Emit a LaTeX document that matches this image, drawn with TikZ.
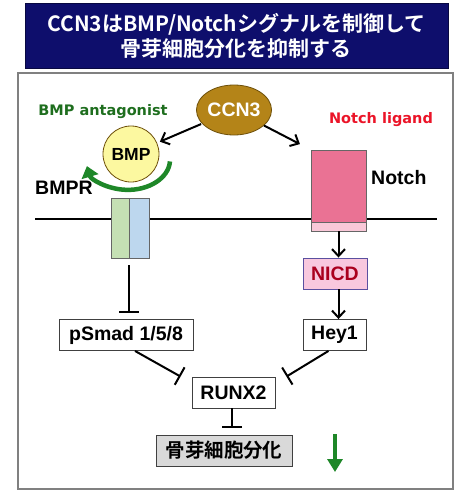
\documentclass[tikz,border=0pt]{standalone}
\usepackage{fontspec}
\setmainfont{Liberation Sans}
\newfontfamily\jpfont{Noto Sans CJK JP}[BoldFont={* Bold}]
\newfontfamily\comicfont{DejaVu Sans}
\usetikzlibrary{arrows.meta,shapes.geometric}
\definecolor{navy}{RGB}{14,14,108}
\definecolor{gold}{RGB}{180,132,24}
\definecolor{goldline}{RGB}{110,80,10}
\definecolor{bmpfill}{RGB}{252,248,160}
\definecolor{dgreen}{RGB}{30,110,30}
\definecolor{agreen}{RGB}{30,135,40}
\definecolor{nred}{RGB}{235,20,40}
\definecolor{notchpink}{RGB}{234,114,148}
\definecolor{notchlight}{RGB}{249,200,216}
\definecolor{nicdfill}{RGB}{248,200,222}
\definecolor{nicdline}{RGB}{90,80,160}
\definecolor{nicdtext}{RGB}{170,0,30}
\definecolor{rgreen}{RGB}{197,224,180}
\definecolor{rblue}{RGB}{189,215,238}
\definecolor{grayfill}{RGB}{217,217,217}
\tikzset{
  lab/.style={font=\fontsize{19.5}{22}\selectfont\bfseries, inner sep=0pt},
  gbox/.style={draw=black!75, line width=0.9pt, fill=white, minimum height=31pt, inner sep=0pt, font=\fontsize{19.5}{22}\selectfont\bfseries},
  arr/.style={line width=2pt, -{Straight Barb[length=7pt,width=13pt,line width=2pt]}},
  inh/.style={line width=2pt, -{Bar[width=20pt,line width=2pt]}},
}
\begin{document}
\begin{tikzpicture}[x=1pt,y=-1pt]
\useasboundingbox (0,0) rectangle (470,499);
% title
\node[fill=navy, draw=navy!60!black, minimum width=423pt, minimum height=65pt, inner sep=0pt,
      text=white, align=center, font=\jpfont\bfseries\fontsize{21}{25}\selectfont] (title) at (236.5,35.5)
      {CCN3はBMP/Notchシグナルを制御して\\骨芽細胞分化を抑制する};
% frame
\node[draw=gray, line width=2.2pt, fill=white, minimum width=435pt, minimum height=416pt, inner sep=0pt] (frame) at (235.5,281) {};
% membrane
\coordinate (m1) at (35,219);
\coordinate (m2) at (437,219);
\draw[line width=2pt] (m1) -- (m2);
% CCN3
\node[ellipse, draw=goldline, line width=0.8pt, fill=gold, minimum width=72pt, minimum height=50pt, inner sep=0pt,
      text=white, font=\fontsize{19.5}{22}\selectfont\bfseries] (ccn3) at (234,110) {CCN3};
% labels
\node[text=dgreen, font=\comicfont\bfseries\fontsize{14.5}{16}\selectfont, inner sep=0pt] (bmpant) at (103,112) {BMP antagonist};
\node[text=nred, font=\comicfont\bfseries\fontsize{14.5}{16}\selectfont, inner sep=0pt] (nlig) at (381,120) {Notch ligand};
% BMP
\node[circle, draw=goldline, line width=0.8pt, fill=bmpfill, minimum size=56pt, inner sep=0pt,
      font=\fontsize{17.5}{20}\selectfont\bfseries] (bmp) at (131,154) {BMP};
\node[lab, anchor=west] (bmpr) at (35,188) {BMPR};
% receptor
\node[draw=black!60, line width=0.8pt, fill=rgreen, minimum width=18pt, minimum height=60pt, inner sep=0pt] (rg) at (120,228) {};
\node[draw=black!60, line width=0.8pt, fill=rblue, minimum width=20pt, minimum height=60pt, inner sep=0pt] (rb) at (139,228) {};
% green arc
\coordinate (arcs) at ([shift={(3:42pt and 30pt)}]128,163);
\draw[agreen, line width=4.5pt, -{Triangle[length=11pt,width=17pt]}] (arcs) arc[start angle=3, end angle=168, x radius=42, y radius=30];
% Notch
\node[draw=black!60, line width=0.8pt, fill=notchpink, minimum width=55pt, minimum height=72pt, inner sep=0pt] (notch) at (338.5,186) {};
\node[draw=black!60, line width=0.8pt, fill=notchlight, minimum width=55pt, minimum height=9pt, inner sep=0pt] (strip) at (338.5,226.5) {};
\node[lab, anchor=west] (notchl) at (371,178) {Notch};
% boxes
\node[draw=nicdline, line width=0.9pt, fill=nicdfill, minimum width=64pt, minimum height=31pt, inner sep=0pt,
      text=nicdtext, font=\fontsize{19.5}{22}\selectfont\bfseries] (nicd) at (335,273.5) {NICD};
\node[gbox, minimum width=63pt] (hey1) at (334.5,335) {Hey1};
\node[gbox, minimum width=134pt] (psmad) at (126,335) {pSmad 1/5/8};
\node[gbox, minimum width=83pt] (runx2) at (233.5,392.5) {RUNX2};
\node[gbox, fill=grayfill, minimum width=136pt, font=\jpfont\bfseries\fontsize{19.5}{22}\selectfont] (diff) at (224,450.5) {骨芽細胞分化};
% connectors
\draw[arr, shorten >=3pt, shorten <=1pt] (ccn3) -- (bmp);
\draw[arr, shorten >=12pt] (ccn3) -- (notch.north west);
\draw[arr] (strip.south) -- (strip.south |- nicd.north);
\draw[arr] (nicd.south -| strip) -- (hey1.north -| strip);
\draw[inh, shorten <=7pt, shorten >=6pt] (rb.south west) -- (rb.south west |- psmad.north);
\draw[inh] ([xshift=9pt]psmad.south) -- ([xshift=-11pt]runx2.north west);
\draw[inh] ([xshift=-6pt]hey1.south) -- ([xshift=11pt]runx2.north east);
\draw[inh, shorten >=7pt] (runx2.south -| 232,0) -- (diff.north -| 232,0);
% green down arrow
\coordinate (ga1) at (335,434);
\coordinate (ga2) at (335,472);
\draw[agreen, line width=4.5pt, -{Triangle[length=13pt,width=15pt]}] (ga1) -- (ga2);
\end{tikzpicture}
\end{document}
